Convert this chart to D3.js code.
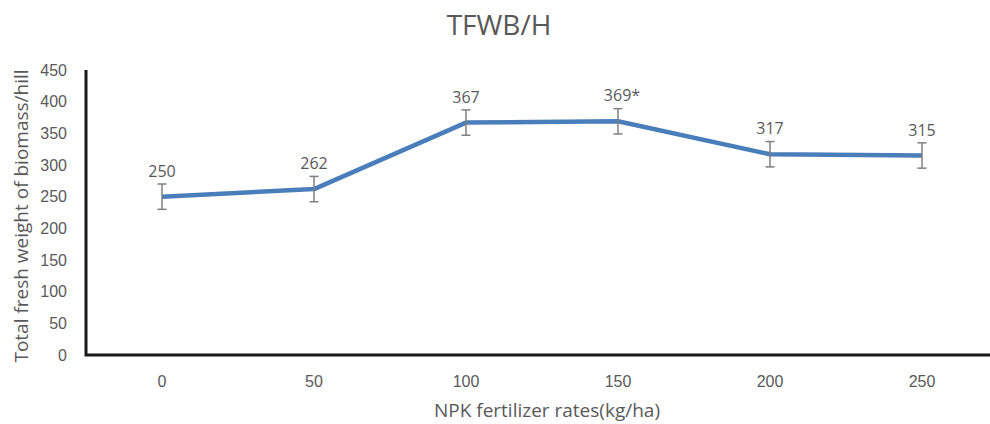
<!DOCTYPE html>
<html>
<head>
<meta charset="utf-8">
<script src="https://cdn.jsdelivr.net/npm/d3@7"></script>
<style>
  body { margin: 0; background: #fff; }
  svg { display: block; font-family: "Open Sans", sans-serif; }
</style>
</head>
<body>
<svg id="chart" width="990" height="424"></svg>
<script>
// Data
const rates = ['0', '50', '100', '150', '200', '250'];
const biomass = [250, 262, 367, 369, 317, 315];
const errors = [20, 20, 20, 20, 20, 20];
const labels = ['250', '262', '367', '369*', '317', '315'];
const yTicks = [0, 50, 100, 150, 200, 250, 300, 350, 400, 450];

const svg = d3.select('#chart');
const textGrey = '#595959';
const lineBlue = '#4a7ebb';

// Plot area
const plotLeft = 86, plotRight = 998, plotTop = 70, plotBottom = 355;

const x = d3.scaleBand().domain(rates).range([plotLeft, plotRight]);
const cx = d => x(d) + x.bandwidth() / 2;
const y = d3.scaleLinear().domain([0, 450]).range([plotBottom, plotTop]);

// Title
svg.append('text')
  .attr('x', 499).attr('y', 35)
  .attr('text-anchor', 'middle')
  .attr('font-size', 28)
  .attr('fill', textGrey)
  .text('TFWB/H');

// Y tick labels
const yAxis = svg.append('g')
  .attr('transform', `translate(${plotLeft},0)`)
  .call(d3.axisLeft(y).tickValues(yTicks).tickSize(0).tickPadding(19));
yAxis.select('.domain').remove();
yAxis.selectAll('text')
  .attr('font-size', 16)
  .attr('fill', textGrey)
  .attr('font-family', null);

// X tick labels
const xAxis = svg.append('g')
  .attr('transform', `translate(0,${plotBottom})`)
  .call(d3.axisBottom(x).tickSize(0).tickPadding(21));
xAxis.select('.domain').remove();
xAxis.selectAll('text')
  .attr('font-size', 16)
  .attr('fill', textGrey)
  .attr('font-family', null);

// Axis lines (thick black, left + bottom)
svg.append('path')
  .attr('d', `M${plotLeft},${plotTop}V${plotBottom}H${990}`)
  .attr('fill', 'none')
  .attr('stroke', '#1a1a1a')
  .attr('stroke-width', 3);

// Axis titles
svg.append('text')
  .attr('x', 547).attr('y', 417)
  .attr('text-anchor', 'middle')
  .attr('font-size', 19)
  .attr('fill', textGrey)
  .text('NPK fertilizer rates(kg/ha)');

svg.append('text')
  .attr('transform', 'translate(28,216) rotate(-90)')
  .attr('text-anchor', 'middle')
  .attr('font-size', 19)
  .attr('fill', textGrey)
  .text('Total fresh weight of biomass/hill');

const pts = rates.map((r, i) => ({ r, v: biomass[i], e: errors[i], label: labels[i] }));

// Line
svg.append('path')
  .datum(pts)
  .attr('fill', 'none')
  .attr('stroke', lineBlue)
  .attr('stroke-width', 4.5)
  .attr('stroke-linejoin', 'round')
  .attr('d', d3.line().x(d => cx(d.r)).y(d => y(d.v)));

// Error bars
const eb = svg.append('g')
  .attr('stroke', '#7f7f7f')
  .attr('stroke-width', 1.5)
  .selectAll('g')
  .data(pts)
  .join('g');
eb.append('line')
  .attr('x1', d => cx(d.r)).attr('x2', d => cx(d.r))
  .attr('y1', d => y(d.v + d.e)).attr('y2', d => y(d.v - d.e));
eb.append('line')
  .attr('x1', d => cx(d.r) - 4.5).attr('x2', d => cx(d.r) + 4.5)
  .attr('y1', d => y(d.v + d.e)).attr('y2', d => y(d.v + d.e));
eb.append('line')
  .attr('x1', d => cx(d.r) - 4.5).attr('x2', d => cx(d.r) + 4.5)
  .attr('y1', d => y(d.v - d.e)).attr('y2', d => y(d.v - d.e));

// Data labels
svg.append('g')
  .selectAll('text')
  .data(pts)
  .join('text')
  .attr('x', d => cx(d.r) + (d.label.endsWith('*') ? 4 : 0))
  .attr('y', d => y(d.v) - 20)
  .attr('text-anchor', 'middle')
  .attr('font-size', 16)
  .attr('fill', textGrey)
  .text(d => d.label);
</script>
</body>
</html>
